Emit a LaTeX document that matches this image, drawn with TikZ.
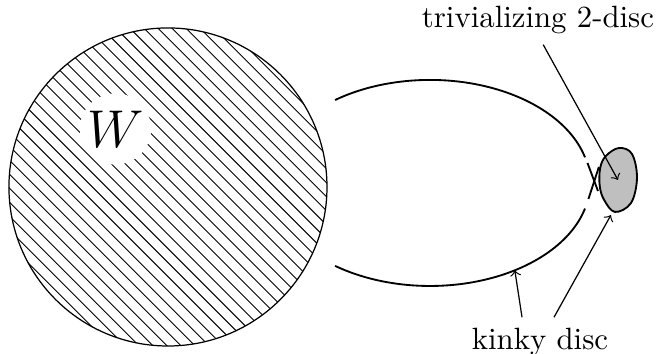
\documentclass[tikz,border=0pt]{standalone}
\usepackage{tikz}

\begin{document}
\begin{tikzpicture}[line width=0.4pt,
  curve/.style={line width=0.6pt},
  hatch/.style={line width=0.3pt}]
  \useasboundingbox (0,0) rectangle (7.51,4.04);
  \coordinate (O) at (1.917,1.906);
  \coordinate (lc) at (4.908,1.952);
  \coordinate (dc) at (7.053,1.986);
  \coordinate (db) at (6.973,1.586);
  \path (lc) ++(-58:1.826 and 1.176) coordinate (ka);
  % hatched ball W
  \begin{scope}
    \clip (O) circle (1.815);
    \foreach \c in {1.2,1.36,...,6.5}
      \draw[hatch] (\c-4,4) -- (\c+1,-1);
  \end{scope}
  \draw (O) circle (1.815);
  \node[circle,fill=white,inner sep=0.5pt] (W) at (1.318,2.568) {\LARGE $W$};
  % the loop with its kink
  \draw[curve] (lc) ++(126.4:1.826 and 1.176)
    arc[start angle=126.4,end angle=14.4,x radius=1.826,y radius=1.176];
  \draw[curve] (lc) ++(-14.4:1.826 and 1.176)
    arc[start angle=-14.4,end angle=-126.4,x radius=1.826,y radius=1.176];
  % trivializing disc
  \filldraw[curve,fill=gray!50] plot[smooth cycle,tension=0.6] coordinates
    {(7.065,2.351) (7.213,2.283) (7.270,2.009) (7.202,1.723) (7.019,1.621)
     (6.895,1.758) (6.845,1.917) (6.850,2.123) (6.915,2.260)};
  \draw[curve] (6.705,2.180) -- (6.825,1.860);
  \draw[curve] (6.835,2.134) -- (6.716,1.769);
  % labels
  \node (tri) at (6.140,3.812) {trivializing 2-disc};
  \node (kinky) at (6.163,0.137) {kinky disc};
  \draw[->] ([xshift=0.06cm]tri.south) -- (dc);
  \draw[->] ([xshift=-0.205cm]kinky.north) -- (ka);
  \draw[->] ([xshift=0.16cm]kinky.north) -- (db);
\end{tikzpicture}
\end{document}
